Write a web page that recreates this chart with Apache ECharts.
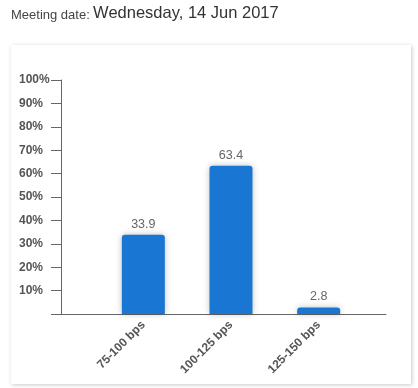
<!DOCTYPE html>
<html><head><meta charset="utf-8">
<script src="https://cdn.jsdelivr.net/npm/echarts@6/dist/echarts.min.js"></script>
<style>html,body{margin:0;padding:0;background:#fff}#c{width:418px;height:388px}</style>
</head><body><div id="c"></div>
<script>
const categories = ['75-100 bps', '100-125 bps', '125-150 bps'];
const probabilities = [33.9, 63.4, 2.8];
const yTicks = [10, 20, 30, 40, 50, 60, 70, 80, 90, 100];
const meetingLabel = 'Meeting date:';
const meetingDate = 'Wednesday, 14 Jun 2017';

const chart = echarts.init(document.getElementById('c'));
const gTop = 80, gBottom = 388 - 314;
chart.setOption({
  animation: false,
  graphic: [
    { type: 'rect', shape: { x: 11, y: 45, width: 400, height: 339 },
      style: { fill: '#fff', shadowBlur: 4, shadowColor: 'rgba(0,0,0,0.22)', shadowOffsetX: 1, shadowOffsetY: 1 }, z: -10 },
    { type: 'text', left: 11, top: 5,
      style: { text: '{a|' + meetingLabel + '} {b|' + meetingDate + '}',
        rich: { a: { fontFamily: 'Arial, Liberation Sans', fontSize: 13, fill: '#444', verticalAlign: 'bottom' },
                b: { fontFamily: 'Arial, Liberation Sans', fontSize: 16.5, fill: '#333', verticalAlign: 'bottom' } } } }
  ],
  grid: [
    { left: 61, right: 418 - 386, top: gTop, bottom: gBottom },
    { left: 99.5, width: 263, top: gTop, bottom: gBottom }
  ],
  xAxis: [
    { gridIndex: 0, type: 'value', min: 0, max: 1, axisLine: { show: true, onZero: false, lineStyle: { color: '#666', width: 1 } },
      axisTick: { show: false }, axisLabel: { show: false }, splitLine: { show: false } },
    { gridIndex: 1, type: 'category', data: categories, axisLine: { show: false }, axisTick: { show: false },
      axisLabel: { rotate: 45, margin: 9, color: '#555', fontWeight: 'bold', fontSize: 12, fontFamily: 'Arial, Liberation Sans' } }
  ],
  yAxis: [
    { gridIndex: 0, type: 'value', min: 0, max: 100, interval: 10,
      axisLine: { show: true, lineStyle: { color: '#666', width: 1 } },
      axisTick: { show: true, length: 10, lineStyle: { color: '#666' } },
      splitLine: { show: false },
      axisLabel: { show: true, margin: 42, align: 'left', padding: [0, 0, 11, 0],
        color: '#555', fontWeight: 'bold', fontSize: 12, fontFamily: 'Arial, Liberation Sans',
        formatter: v => yTicks.includes(v) ? v + '%' : '' } },
    { gridIndex: 1, type: 'value', min: 0, max: 100, show: false }
  ],
  series: [{
    type: 'bar', xAxisIndex: 1, yAxisIndex: 1, data: probabilities, barWidth: 43,
    itemStyle: { color: '#1976d2', borderRadius: [3, 3, 0, 0], shadowBlur: 6, shadowColor: 'rgba(0,0,0,0.25)', shadowOffsetY: 0 },
    label: { show: true, position: 'top', distance: 4, color: '#666', fontSize: 12.5, fontFamily: 'Arial, Liberation Sans' }
  }]
});
</script></body></html>
